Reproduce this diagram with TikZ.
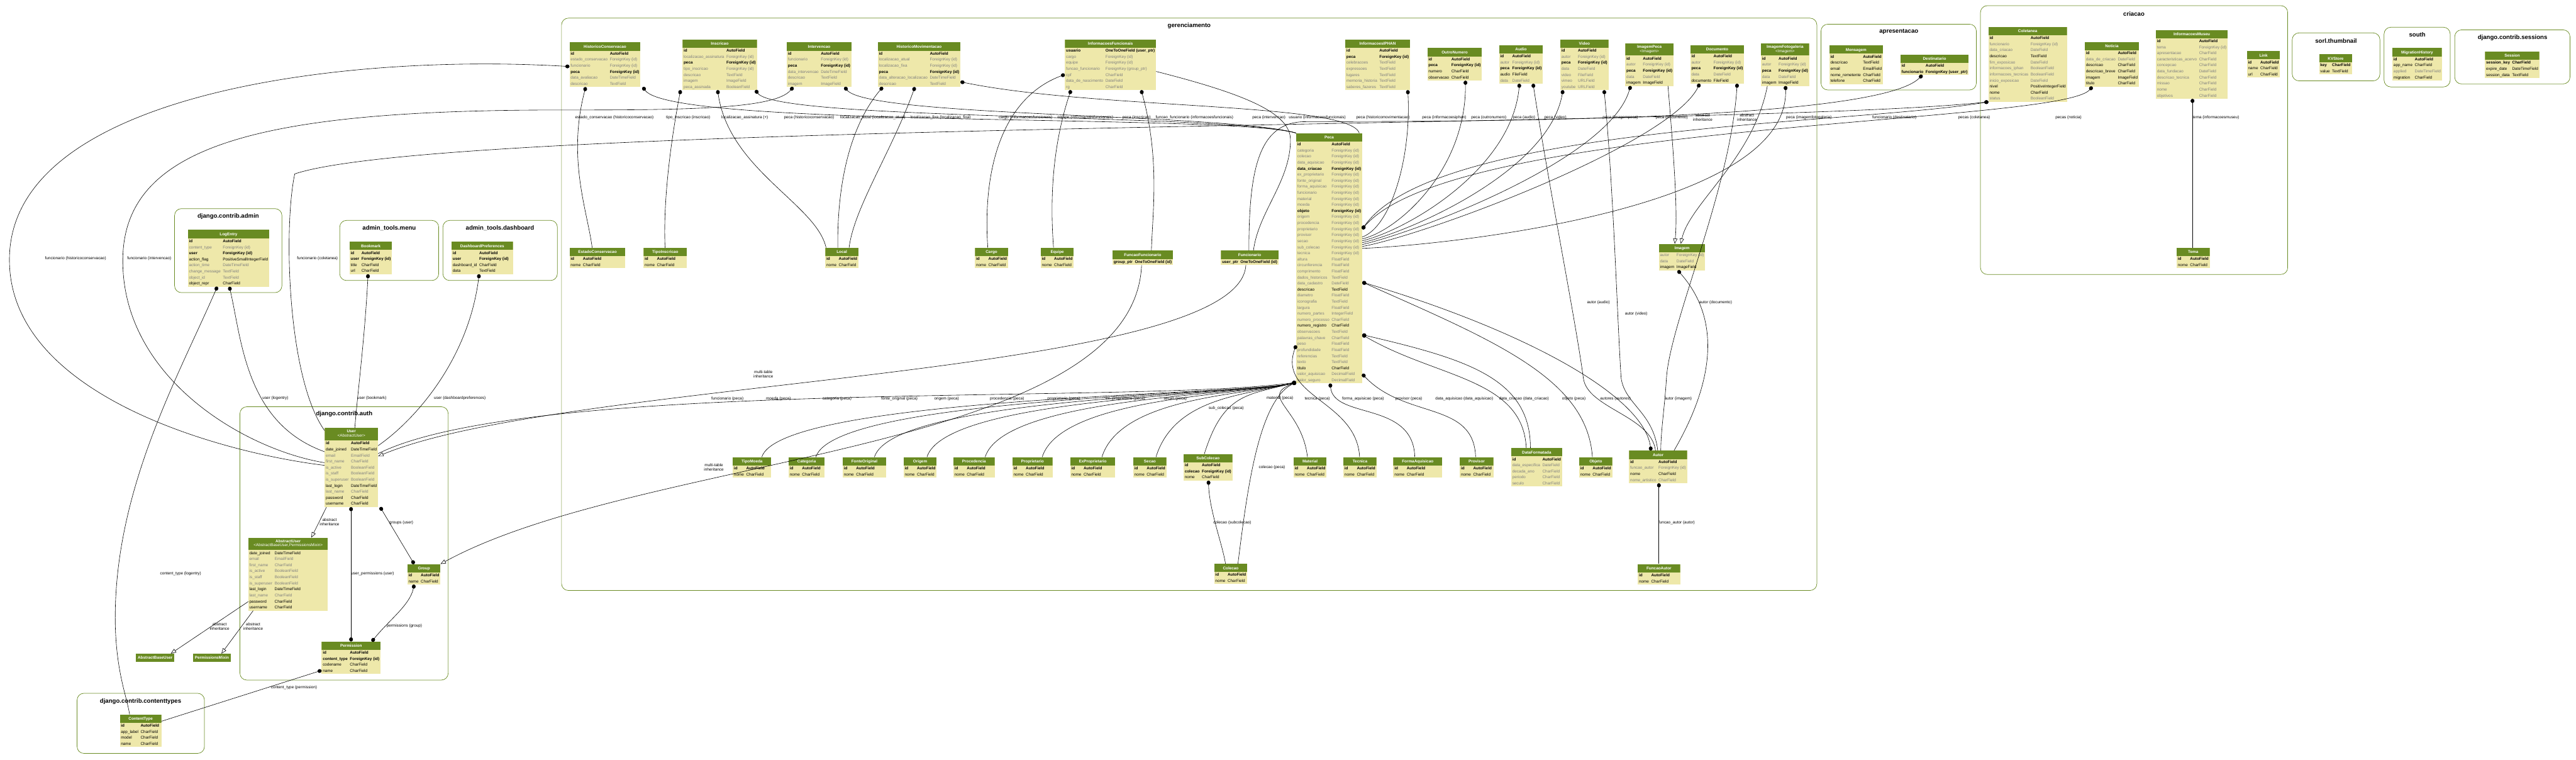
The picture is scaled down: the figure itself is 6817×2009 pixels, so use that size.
\documentclass[tikz,border=0pt]{standalone}
\usepackage{fontspec}
\setmainfont{Liberation Sans}
\usetikzlibrary{arrows.meta,calc,positioning}

\definecolor{hdr}{HTML}{698B22}
\definecolor{body}{HTML}{EEE8AA}
\definecolor{fgray}{HTML}{808080}

\newcommand{\mfont}{\fontsize{10.6}{16}\selectfont}
\newcommand{\Fb}[2]{\textbf{#1} & \textbf{#2}\\}
\newcommand{\Fn}[2]{#1 & #2\\}
\newcommand{\Fg}[2]{\textcolor{fgray}{#1} & \textcolor{fgray}{#2}\\}
\newcommand{\idnome}{\Fb{id}{AutoField}\Fn{nome}{CharField}}
\newcommand{\mtbl}[2]{\begin{tabular}{@{\hspace{3pt}}l@{\hspace{6pt}}l@{\hspace{3pt}}}
  \multicolumn{2}{@{\hspace{23pt}}c@{\hspace{23pt}}}{\color{white}\bfseries\rule[-7pt]{0pt}{22pt}#1}\\
  #2\end{tabular}}
\newcommand{\mtbltwo}[3]{\begin{tabular}{@{\hspace{3pt}}l@{\hspace{6pt}}l@{\hspace{3pt}}}
  \multicolumn{2}{@{\hspace{14pt}}c@{\hspace{14pt}}}{\color{white}\rule[-10pt]{0pt}{33pt}\raisebox{-1pt}{\fontsize{10.6}{11.5}\selectfont\begin{tabular}[b]{@{}c@{}}\bfseries #1\\ #2\end{tabular}}}\\
  #3\end{tabular}}

\tikzset{
  mtab/.style={anchor=north west, inner sep=0pt, fill=body, font=\mfont,
    path picture={\fill[hdr] (path picture bounding box.north west)
      rectangle ([yshift=-#1pt]path picture bounding box.north east);}},
  mtab/.default=22,
  honly/.style={anchor=north west, inner xsep=4.5pt, inner ysep=0pt, minimum height=22pt,
    fill=hdr, text=white, font=\mfont\bfseries},
  clus/.style={draw=hdr, line width=1.2pt, rounded corners=18pt},
  ctitle/.style={font=\fontsize{16}{18}\selectfont\bfseries},
  elab/.style={font=\fontsize{10.6}{11.5}\selectfont, align=center, inner sep=0pt},
  fk/.style={draw, line width=1pt, arrows={Circle[length=11pt,width=10pt]-}},
  mm/.style={draw, line width=1pt, arrows={Circle[length=11pt,width=10pt]-Circle[length=11pt,width=10pt]}},
  oo/.style={draw, line width=1pt},
  inh/.style={draw, line width=1pt, arrows={-Triangle[open,length=14pt,width=11pt]}}
}

\begin{document}
\begin{tikzpicture}[x=1pt,y=-1pt]
\useasboundingbox (0,0) rectangle (6817,2009);

% app clusters
\draw[clus] (462,552) rectangle (746,774);
\node[ctitle] (t-admin) at (604,572) {django.contrib.admin};
\draw[clus] (899,583) rectangle (1161,742);
\node[ctitle] (t-menu) at (1030,604) {admin\_tools.menu};
\draw[clus] (1172,583) rectangle (1475,742);
\node[ctitle] (t-dash) at (1323,604) {admin\_tools.dashboard};
\draw[clus] (635,1076) rectangle (1186,1799);
\node[ctitle] (t-auth) at (911,1095) {django.contrib.auth};
\draw[clus] (204,1834) rectangle (541,1993);
\node[ctitle] (t-ctype) at (372,1855) {django.contrib.contenttypes};
\draw[clus] (1486,48) rectangle (4808,1562);
\node[ctitle] (t-ger) at (3147,68) {gerenciamento};
\draw[clus] (4819,64) rectangle (5230,238);
\node[ctitle] (t-apr) at (5025,84) {apresentacao};
\draw[clus] (5241,15) rectangle (6054,726);
\node[ctitle] (t-cri) at (5647,36) {criacao};
\draw[clus] (6066,87) rectangle (6298,214);
\node[ctitle] (t-sorl) at (6182,108) {sorl.thumbnail};
\draw[clus] (6309,72) rectangle (6484,230);
\node[ctitle] (t-south) at (6397,92) {south};
\draw[clus] (6496,79) rectangle (6801,222);
\node[ctitle] (t-sess) at (6649,100) {django.contrib.sessions};

% admin, admin_tools
\node[mtab] (logentry) at (497,608) {\mtbl{LogEntry}{\Fb{id}{AutoField}\Fg{content\_type}{ForeignKey (id)}\Fb{user}{ForeignKey (id)}\Fn{action\_flag}{PositiveSmallIntegerField}\Fg{action\_time}{DateTimeField}\Fg{change\_message}{TextField}\Fg{object\_id}{TextField}\Fn{object\_repr}{CharField}}};
\node[mtab] (bookmark) at (925,639) {\mtbl{Bookmark}{\Fb{id}{AutoField}\Fb{user}{ForeignKey (id)}\Fn{title}{CharField}\Fn{url}{CharField}}};
\node[mtab] (dashprefs) at (1195,639) {\mtbl{DashboardPreferences}{\Fb{id}{AutoField}\Fb{user}{ForeignKey (id)}\Fn{dashboard\_id}{CharField}\Fn{data}{TextField}}};

% auth, contenttypes
\node[mtab=33] (user) at (859,1132) {\mtbltwo{User}{\textless AbstractUser\textgreater}{\Fb{id}{AutoField}\Fn{date\_joined}{DateTimeField}\Fg{email}{EmailField}\Fg{first\_name}{CharField}\Fg{is\_active}{BooleanField}\Fg{is\_staff}{BooleanField}\Fg{is\_superuser}{BooleanField}\Fn{last\_login}{DateTimeField}\Fg{last\_name}{CharField}\Fn{password}{CharField}\Fn{username}{CharField}}};
\node[mtab=33] (abstractuser) at (657,1422) {\mtbltwo{AbstractUser}{\textless AbstractBaseUser,PermissionsMixin\textgreater}{\Fn{date\_joined}{DateTimeField}\Fg{email}{EmailField}\Fg{first\_name}{CharField}\Fg{is\_active}{BooleanField}\Fg{is\_staff}{BooleanField}\Fg{is\_superuser}{BooleanField}\Fn{last\_login}{DateTimeField}\Fg{last\_name}{CharField}\Fn{password}{CharField}\Fn{username}{CharField}}};
\node[mtab] (group) at (1078,1492) {\mtbl{Group}{\Fb{id}{AutoField}\Fn{name}{CharField}}};
\node[mtab] (permission) at (851,1697) {\mtbl{Permission}{\Fb{id}{AutoField}\Fb{content\_type}{ForeignKey (id)}\Fn{codename}{CharField}\Fn{name}{CharField}}};
\node[honly] (abstractbaseuser) at (360,1729) {AbstractBaseUser};
\node[honly] (permissionsmixin) at (511,1729) {PermissionsMixin};
\node[mtab] (contenttype) at (317,1890) {\mtbl{ContentType}{\Fb{id}{AutoField}\Fn{app\_label}{CharField}\Fn{model}{CharField}\Fn{name}{CharField}}};

% gerenciamento
\node[mtab] (histcons) at (1507,112) {\mtbl{HistoricoConservacao}{\Fb{id}{AutoField}\Fg{estado\_conservacao}{ForeignKey (id)}\Fg{funcionario}{ForeignKey (id)}\Fb{peca}{ForeignKey (id)}\Fg{data\_avaliacao}{DateTimeField}\Fg{descricao}{TextField}}};
\node[mtab] (inscricao) at (1806,104) {\mtbl{Inscricao}{\Fb{id}{AutoField}\Fg{localizacao\_assinatura}{ForeignKey (id)}\Fb{peca}{ForeignKey (id)}\Fg{tipo\_inscricao}{ForeignKey (id)}\Fg{descricao}{TextField}\Fg{imagem}{ImageField}\Fg{peca\_assinada}{BooleanField}}};
\node[mtab] (intervencao) at (2082,112) {\mtbl{Intervencao}{\Fb{id}{AutoField}\Fg{funcionario}{ForeignKey (id)}\Fb{peca}{ForeignKey (id)}\Fg{data\_intervencao}{DateTimeField}\Fg{descricao}{TextField}\Fg{imagem}{ImageField}}};
\node[mtab] (histmov) at (2323,112) {\mtbl{HistoricoMovimentacao}{\Fb{id}{AutoField}\Fg{localizacao\_atual}{ForeignKey (id)}\Fg{localizacao\_fixa}{ForeignKey (id)}\Fb{peca}{ForeignKey (id)}\Fg{data\_alteracao\_localizacao}{DateTimeField}\Fg{descricao}{TextField}}};
\node[mtab] (infofunc) at (2818,104) {\mtbl{InformacoesFuncionais}{\Fb{usuario}{OneToOneField (user\_ptr)}\Fg{cargo}{ForeignKey (id)}\Fg{equipe}{ForeignKey (id)}\Fg{funcao\_funcionario}{ForeignKey (group\_ptr)}\Fg{cpf}{CharField}\Fg{data\_de\_nascimento}{DateField}\Fg{rg}{CharField}}};
\node[mtab] (infoiphan) at (3560,104) {\mtbl{InformacoesIPHAN}{\Fb{id}{AutoField}\Fb{peca}{ForeignKey (id)}\Fg{celebracoes}{TextField}\Fg{expressoes}{TextField}\Fg{lugares}{TextField}\Fg{memoria\_historia}{TextField}\Fg{saberes\_fazeres}{TextField}}};
\node[mtab] (outronumero) at (3777,127) {\mtbl{OutroNumero}{\Fb{id}{AutoField}\Fb{peca}{ForeignKey (id)}\Fn{numero}{CharField}\Fn{observacao}{CharField}}};
\node[mtab] (audio) at (3967,119) {\mtbl{Audio}{\Fb{id}{AutoField}\Fg{autor}{ForeignKey (id)}\Fb{peca}{ForeignKey (id)}\Fn{audio}{FileField}\Fg{data}{DateField}}};
\node[mtab] (video) at (4129,104) {\mtbl{Video}{\Fb{id}{AutoField}\Fg{autor}{ForeignKey (id)}\Fb{peca}{ForeignKey (id)}\Fg{data}{DateField}\Fg{video}{FileField}\Fg{vimeo}{URLField}\Fg{youtube}{URLField}}};
\node[mtab=33] (imagempeca) at (4301,114) {\mtbltwo{ImagemPeca}{\textless Imagem\textgreater}{\Fb{id}{AutoField}\Fg{autor}{ForeignKey (id)}\Fb{peca}{ForeignKey (id)}\Fg{data}{DateField}\Fn{imagem}{ImageField}}};
\node[mtab] (documento) at (4473,119) {\mtbl{Documento}{\Fb{id}{AutoField}\Fg{autor}{ForeignKey (id)}\Fb{peca}{ForeignKey (id)}\Fg{data}{DateField}\Fn{documento}{FileField}}};
\node[mtab=33] (imagemfoto) at (4660,114) {\mtbltwo{ImagemFotogaleria}{\textless Imagem\textgreater}{\Fb{id}{AutoField}\Fg{autor}{ForeignKey (id)}\Fb{peca}{ForeignKey (id)}\Fg{data}{DateField}\Fn{imagem}{ImageField}}};

\node[mtab] (estadocons) at (1507,655) {\mtbl{EstadoConservacao}{\idnome}};
\node[mtab] (tipoinscricao) at (1703,655) {\mtbl{TipoInscricao}{\idnome}};
\node[mtab] (local) at (2184,655) {\mtbl{Local}{\idnome}};
\node[mtab] (cargo) at (2580,655) {\mtbl{Cargo}{\idnome}};
\node[mtab] (equipe) at (2754,655) {\mtbl{Equipe}{\idnome}};
\node[mtab] (funcaofunc) at (2944,663) {\mtbl{FuncaoFuncionario}{\Fb{group\_ptr}{OneToOneField (id)}}};
\node[mtab] (funcionario) at (3231,663) {\mtbl{Funcionario}{\Fb{user\_ptr}{OneToOneField (id)}}};
\node[mtab] (imagem) at (4390,645) {\mtbl{Imagem}{\Fg{autor}{ForeignKey (id)}\Fg{data}{DateField}\Fn{imagem}{ImageField}}};

\node[mtab] (peca) at (3430,352) {\mtbl{Peca}{\Fb{id}{AutoField}\Fg{categoria}{ForeignKey (id)}\Fg{colecao}{ForeignKey (id)}\Fg{data\_aquisicao}{ForeignKey (id)}\Fb{data\_criacao}{ForeignKey (id)}\Fg{ex\_proprietario}{ForeignKey (id)}\Fg{fonte\_original}{ForeignKey (id)}\Fg{forma\_aquisicao}{ForeignKey (id)}\Fg{funcionario}{ForeignKey (id)}\Fg{material}{ForeignKey (id)}\Fg{moeda}{ForeignKey (id)}\Fb{objeto}{ForeignKey (id)}\Fg{origem}{ForeignKey (id)}\Fg{procedencia}{ForeignKey (id)}\Fg{proprietario}{ForeignKey (id)}\Fg{provisor}{ForeignKey (id)}\Fg{secao}{ForeignKey (id)}\Fg{sub\_colecao}{ForeignKey (id)}\Fg{tecnica}{ForeignKey (id)}\Fg{altura}{FloatField}\Fg{circunferencia}{FloatField}\Fg{comprimento}{FloatField}\Fg{dados\_historicos}{TextField}\Fg{data\_cadastro}{DateField}\Fn{descricao}{TextField}\Fg{diametro}{FloatField}\Fg{iconografia}{TextField}\Fg{largura}{FloatField}\Fg{numero\_partes}{IntegerField}\Fg{numero\_processo}{CharField}\Fn{numero\_registro}{CharField}\Fg{observacoes}{TextField}\Fg{palavras\_chave}{CharField}\Fg{peso}{FloatField}\Fg{profundidade}{FloatField}\Fg{referencias}{TextField}\Fg{texto}{TextField}\Fn{titulo}{CharField}\Fg{valor\_aquisicao}{DecimalField}\Fg{valor\_seguro}{DecimalField}}};

\node[mtab] (tipomoeda) at (1939,1209) {\mtbl{TipoMoeda}{\idnome}};
\node[mtab] (categoria) at (2087,1209) {\mtbl{Categoria}{\idnome}};
\node[mtab] (fonteoriginal) at (2230,1209) {\mtbl{FonteOriginal}{\idnome}};
\node[mtab] (origem) at (2391,1209) {\mtbl{Origem}{\idnome}};
\node[mtab] (procedencia) at (2523,1209) {\mtbl{Procedencia}{\idnome}};
\node[mtab] (proprietario) at (2679,1209) {\mtbl{Proprietario}{\idnome}};
\node[mtab] (exproprietario) at (2832,1209) {\mtbl{ExProprietario}{\idnome}};
\node[mtab] (secao) at (2999,1209) {\mtbl{Secao}{\idnome}};
\node[mtab] (subcolecao) at (3132,1201) {\mtbl{SubColecao}{\Fb{id}{AutoField}\Fb{colecao}{ForeignKey (id)}\Fn{nome}{CharField}}};
\node[mtab] (colecao) at (3213,1491) {\mtbl{Colecao}{\idnome}};
\node[mtab] (material) at (3423,1209) {\mtbl{Material}{\idnome}};
\node[mtab] (tecnica) at (3555,1209) {\mtbl{Tecnica}{\idnome}};
\node[mtab] (formaaquisicao) at (3687,1209) {\mtbl{FormaAquisicao}{\idnome}};
\node[mtab] (provisor) at (3863,1209) {\mtbl{Provisor}{\idnome}};
\node[mtab] (dataformatada) at (3999,1185) {\mtbl{DataFormatada}{\Fb{id}{AutoField}\Fg{data\_especifica}{DateField}\Fg{decada\_ano}{CharField}\Fg{periodo}{CharField}\Fg{seculo}{CharField}}};
\node[mtab] (objeto) at (4179,1209) {\mtbl{Objeto}{\idnome}};
\node[mtab] (autor) at (4311,1192) {\mtbl{Autor}{\Fb{id}{AutoField}\Fg{funcao\_autor}{ForeignKey (id)}\Fn{nome}{CharField}\Fg{nome\_artistico}{CharField}}};
\node[mtab] (funcaoautor) at (4334,1492) {\mtbl{FuncaoAutor}{\idnome}};

% apresentacao, criacao
\node[mtab] (mensagem) at (4841,120) {\mtbl{Mensagem}{\Fb{id}{AutoField}\Fn{descricao}{TextField}\Fn{email}{EmailField}\Fn{nome\_remetente}{CharField}\Fn{telefone}{CharField}}};
\node[mtab] (destinatario) at (5029,144) {\mtbl{Destinatario}{\Fb{id}{AutoField}\Fb{funcionario}{ForeignKey (user\_ptr)}}};
\node[mtab] (coletanea) at (5262,71) {\mtbl{Coletanea}{\Fb{id}{AutoField}\Fg{funcionario}{ForeignKey (id)}\Fg{data\_criacao}{DateField}\Fn{descricao}{TextField}\Fg{fim\_exposicao}{DateField}\Fg{informacoes\_iphan}{BooleanField}\Fg{informacoes\_tecnicas}{BooleanField}\Fg{inicio\_exposicao}{DateField}\Fn{nivel}{PositiveIntegerField}\Fn{nome}{CharField}\Fg{status}{BooleanField}}};
\node[mtab] (noticia) at (5517,111) {\mtbl{Noticia}{\Fb{id}{AutoField}\Fg{data\_de\_criacao}{DateField}\Fn{descricao}{CharField}\Fn{descricao\_breve}{CharField}\Fn{imagem}{ImageField}\Fn{titulo}{CharField}}};
\node[mtab] (infomuseu) at (5705,79) {\mtbl{InformacoesMuseu}{\Fb{id}{AutoField}\Fg{tema}{ForeignKey (id)}\Fg{apresentacao}{CharField}\Fg{caracteristicas\_acervo}{CharField}\Fg{concepcao}{CharField}\Fg{data\_fundacao}{DateField}\Fg{descricao\_tecnica}{CharField}\Fg{missao}{CharField}\Fg{nome}{CharField}\Fg{objetivos}{CharField}}};
\node[mtab] (link) at (5946,135) {\mtbl{Link}{\Fb{id}{AutoField}\Fn{name}{CharField}\Fn{url}{CharField}}};
\node[mtab] (tema) at (5760,655) {\mtbl{Tema}{\idnome}};

% sorl, south, sessions
\node[mtab] (kvstore) at (6137,143) {\mtbl{KVStore}{\Fb{key}{CharField}\Fn{value}{TextField}}};
\node[mtab] (migration) at (6331,127) {\mtbl{MigrationHistory}{\Fb{id}{AutoField}\Fn{app\_name}{CharField}\Fg{applied}{DateTimeField}\Fn{migration}{CharField}}};
\node[mtab] (session) at (6576,136) {\mtbl{Session}{\Fb{session\_key}{CharField}\Fn{expire\_date}{DateTimeField}\Fn{session\_data}{TextField}}};

% relations: admin, auth
\draw[fk] ([xshift=110pt]logentry.south west) .. controls (640,900) and (650,1120) .. ([yshift=-63pt]user.north west);
\draw[fk] ([xshift=78pt]logentry.south west) .. controls (470,1000) and (300,1300) .. (305,1650) .. controls (308,1780) and (335,1840) .. ([xshift=26pt]contenttype.north west);
\draw[fk] ([xshift=49pt]bookmark.south west) .. controls (965,900) and (945,1050) .. ([xshift=80pt]user.north west);
\draw[fk] ([xshift=73pt]dashprefs.south west) .. controls (1240,950) and (1100,1110) .. ([yshift=-47pt]user.north east);
\draw[inh] ([xshift=5pt]user.south west) -- ([xshift=167pt]abstractuser.north west);
\draw[mm] ([xshift=70pt]user.south west) -- ([xshift=78pt]permission.north west);
\draw[mm] ([xshift=147pt]user.south west) -- ([xshift=18pt]group.north west);
\draw[mm] ([xshift=18pt]group.south west) .. controls (1085,1600) and (1030,1640) .. ([xshift=133pt]permission.north west);
\draw[inh] ([yshift=24pt]abstractuser.south west) -- ([xshift=92pt]abstractbaseuser.north west);
\draw[inh] ([xshift=13pt]abstractuser.south west) -- ([xshift=75pt]permissionsmixin.north west);
\draw[fk] ([yshift=10pt]permission.south west) -- ([yshift=-18pt]contenttype.north east);

% relations: gerenciamento, top row
\draw[fk] ([xshift=43pt]histcons.south west) .. controls (1500,420) and (1555,560) .. ([xshift=60pt]estadocons.north west);
\draw[fk] ([yshift=-64pt]histcons.north west) .. controls (900,140) and (30,250) .. (25,683) .. controls (20,1050) and (600,1200) .. ([yshift=-99pt]user.north west);
\draw[fk] ([xshift=17pt]intervencao.south west) .. controls (2050,290) and (1800,291) .. (1480,291) .. controls (700,291) and (330,380) .. (325,683) .. controls (320,1000) and (650,1190) .. ([yshift=-92pt]user.north west);
\draw[fk] ([xshift=194pt]histcons.south west) .. controls (1780,340) and (3250,300) .. (peca.north west);
\draw[fk] ([xshift=193pt]inscricao.south west) .. controls (2060,320) and (3250,300) .. (peca.north west);
\draw[fk] ([xshift=153pt]intervencao.south west) .. controls (2300,310) and (3250,300) .. (peca.north west);
\draw[fk] ([yshift=14pt]histmov.south east) .. controls (2900,290) and (3570,270) .. ([xshift=-8pt]peca.north east);
\draw[fk] ([xshift=-5pt]inscricao.south west) .. controls (1770,400) and (1755,550) .. ([xshift=57pt]tipoinscricao.north west);
\draw[fk] ([xshift=93pt]inscricao.south west) .. controls (1930,450) and (2160,540) .. ([xshift=2pt]local.north west);
\draw[fk] ([xshift=13pt]histmov.south west) .. controls (2260,320) and (2215,460) .. ([xshift=33pt]local.north west);
\draw[fk] ([xshift=98pt]histmov.south west) .. controls (2360,400) and (2260,550) .. ([xshift=63pt]local.north west);
\draw[fk] ([yshift=-93pt]infofunc.north west) .. controls (2650,260) and (2600,450) .. ([xshift=34pt]cargo.north west);
\draw[fk] ([xshift=16pt]infofunc.south west) .. controls (2780,400) and (2780,550) .. ([xshift=34pt]equipe.north west);
\draw[fk] ([xshift=202pt]infofunc.south west) .. controls (3070,420) and (3050,560) .. ([xshift=103pt]funcaofunc.north west);
\draw[oo] ([yshift=-85pt]infofunc.north east) .. controls (3300,250) and (3415,300) .. (3415,370) .. controls (3415,480) and (3330,560) .. ([xshift=86pt]funcionario.north west);
\draw[fk] ([xshift=-6pt]infoiphan.south east) .. controls (3735,420) and (3680,600) .. ([yshift=-275pt]peca.north east);
\draw[fk] ([xshift=101pt]outronumero.south west) .. controls (3880,450) and (3700,610) .. ([yshift=-280pt]peca.north east);
\draw[fk] ([xshift=54pt]audio.south west) .. controls (4000,450) and (3720,610) .. ([yshift=-285pt]peca.north east);
\draw[fk] ([xshift=7pt]video.south west) .. controls (4100,450) and (3740,610) .. ([yshift=-290pt]peca.north east);
\draw[fk] ([xshift=14pt]imagempeca.south west) .. controls (4260,420) and (3760,610) .. ([yshift=-295pt]peca.north east);
\draw[fk] ([xshift=25pt]documento.south west) .. controls (4420,380) and (3780,620) .. ([yshift=-300pt]peca.north east);
\draw[fk] ([xshift=65pt]imagemfoto.south west) .. controls (4735,560) and (3800,650) .. ([yshift=-305pt]peca.north east);
\draw[inh] ([xshift=113pt]imagempeca.south west) .. controls (4430,420) and (4440,560) .. ([xshift=42pt]imagem.north west);
\draw[inh] ([xshift=17pt]imagemfoto.south west) .. controls (4640,420) and (4470,540) .. ([xshift=58pt]imagem.north west);

% relations: apresentacao, criacao
\draw[mm] (coletanea.south west) .. controls (4900,330) and (3800,330) .. ([yshift=-254pt]peca.north east);
\draw[mm] ([xshift=20pt]noticia.south west) .. controls (5450,330) and (3850,320) .. ([yshift=-254pt]peca.north east);
\draw[fk] (coletanea.south west) .. controls (4600,340) and (1200,320) .. (780,460) .. controls (750,600) and (760,1000) .. ([yshift=-7pt]user.north west);
\draw[fk] ([xshift=58pt]destinatario.south west) .. controls (4960,330) and (3700,320) .. (3450,322) .. controls (3330,325) and (3305,450) .. ([xshift=74pt]funcionario.north west);
\draw[fk] ([xshift=97pt]infomuseu.south west) -- ([xshift=42pt]tema.north west);

% relations: inheritance into auth
\draw[inh] ([xshift=66pt]funcionario.south west) .. controls (3280,1000) and (1500,1000) .. ([yshift=-75pt]user.north east);
\draw[inh] ([xshift=77pt]funcaofunc.south west) .. controls (3000,1200) and (1700,1200) .. (group.north east);

% relations: Peca to the lower row
\foreach \tn/\dx in {tipomoeda/77,categoria/72,fonteoriginal/84,origem/62,procedencia/84,proprietario/79,exproprietario/84,secao/60,subcolecao/55}
  \draw[fk] ([yshift=3pt]peca.south west) .. controls (3300,1045) and ($(\tn.north west)+(\dx+50,-160)$) .. ([xshift=\dx pt]\tn.north west);
\draw[fk] ([yshift=3pt]peca.south west) .. controls (3330,1050) and (3445,1080) .. ([xshift=37pt]material.north west);
\draw[fk] ([yshift=3pt]peca.south west) .. controls (3330,1060) and (3300,1300) .. ([xshift=63pt]colecao.north west);
\draw[fk] ([yshift=3pt]peca.south west) .. controls (3000,1070) and (1400,1000) .. ([yshift=-68pt]user.north east);
\draw[fk] ([yshift=101pt]peca.south west) .. controls (3380,1050) and (3590,1060) .. ([xshift=43pt]tecnica.north west);
\draw[fk] ([xshift=90pt]peca.south west) .. controls (3530,1110) and (3740,1060) .. ([xshift=57pt]formaaquisicao.north west);
\draw[fk] ([yshift=25pt]peca.south east) .. controls (3720,1110) and (3900,1060) .. ([xshift=42pt]provisor.north west);
\draw[fk] ([yshift=129pt]peca.south east) .. controls (3800,1000) and (4030,1000) .. ([xshift=40pt]dataformatada.north west);
\draw[fk] ([yshift=129pt]peca.south east) .. controls (3880,950) and (4050,1000) .. ([xshift=51pt]dataformatada.north west);
\draw[fk] ([yshift=268pt]peca.south east) .. controls (3950,900) and (4200,1000) .. ([xshift=35pt]objeto.north west);
\draw[mm] ([yshift=268pt]peca.south east) .. controls (4050,880) and (4350,1050) .. ([xshift=58pt]autor.north west);
\draw[fk] ([xshift=66pt]subcolecao.south west) .. controls (3200,1350) and (3235,1440) .. ([xshift=30pt]colecao.north west);

% relations: Autor
\draw[fk] ([xshift=90pt]audio.south west) .. controls (4100,500) and (4170,850) .. (4190,1000) .. controls (4200,1080) and (4370,1100) .. ([xshift=70pt]autor.north west);
\draw[fk] ([xshift=116pt]video.south west) .. controls (4270,500) and (4280,850) .. (4290,1000) .. controls (4300,1070) and (4375,1090) .. ([xshift=76pt]autor.north west);
\draw[fk] ([xshift=124pt]documento.south west) .. controls (4580,500) and (4420,850) .. (4410,1000) .. controls (4405,1080) and (4395,1140) .. ([xshift=84pt]autor.north west);
\draw[fk] ([xshift=50pt]imagem.south west) .. controls (4560,850) and (4530,1020) .. ([xshift=119pt]autor.north west);
\draw[fk] ([xshift=79pt]autor.south west) -- ([xshift=56pt]funcaoautor.north west);

% labels
\node[elab] (l-logu) at (729,1054) {user (logentry)};
\node[elab] (l-logct) at (478,1517) {content\_type (logentry)};
\node[elab] (l-bkm) at (984,1054) {user (bookmark)};
\node[elab] (l-dash) at (1217,1054) {user (dashboardpreferences)};
\node[elab] (l-abs1) at (872,1381) {abstract\\inheritance};
\node[elab] (l-uperm) at (986,1518) {user\_permissions (user)};
\node[elab] (l-grp) at (1062,1382) {groups (user)};
\node[elab] (l-gperm) at (1070,1655) {permissions (group)};
\node[elab] (l-abs2) at (581,1657) {abstract\\inheritance};
\node[elab] (l-abs3) at (670,1657) {abstract\\inheritance};
\node[elab] (l-pct) at (778,1819) {content\_type (permission)};
\node[elab] (l-fhc) at (200,683) {funcionario (historicoconservacao)};
\node[elab] (l-fint) at (395,683) {funcionario (intervencao)};
\node[elab] (l-fcol) at (840,683) {funcionario (coletanea)};
\node[elab] (l-estc) at (1626,311) {estado\_conservacao (historicoconservacao)};
\node[elab] (l-tins) at (1821,311) {tipo\_inscricao (inscricao)};
\node[elab] (l-lass) at (1971,311) {localizacao\_assinatura (+)};
\node[elab] (l-phc) at (2141,311) {peca (historicoconservacao)};
\node[elab] (l-lat) at (2310,311) {localizacao\_atual (localizacao\_atual)};
\node[elab] (l-lfx) at (2489,311) {localizacao\_fixa (localizacao\_fixa)};
\node[elab] (l-cargo) at (2714,311) {cargo (informacoesfuncionais)};
\node[elab] (l-equipe) at (2872,311) {equipe (informacoesfuncionais)};
\node[elab] (l-pins) at (3008,311) {peca (inscricao)};
\node[elab] (l-ffun) at (3161,311) {funcao\_funcionario (informacoesfuncionais)};
\node[elab] (l-pint) at (3358,311) {peca (intervencao)};
\node[elab] (l-usu) at (3486,311) {usuario (informacoesfuncionais)};
\node[elab] (l-phm) at (3660,311) {peca (historicomovimentacao)};
\node[elab] (l-piph) at (3822,311) {peca (informacoesiphan)};
\node[elab] (l-pon) at (3940,311) {peca (outronumero)};
\node[elab] (l-paud) at (4033,311) {peca (audio)};
\node[elab] (l-pvid) at (4116,311) {peca (video)};
\node[elab] (l-pimg) at (4288,311) {peca (imagempeca)};
\node[elab] (l-pdoc) at (4424,311) {peca (documento)};
\node[elab] (l-abs4) at (4506,311) {abstract\\inheritance};
\node[elab] (l-abs5) at (4623,311) {abstract\\inheritance};
\node[elab] (l-pfot) at (4787,311) {peca (imagemfotogaleria)};
\node[elab] (l-fdest) at (5013,311) {funcionario (destinatario)};
\node[elab] (l-pcol) at (5224,311) {pecas (coletanea)};
\node[elab] (l-pnot) at (5474,311) {pecas (noticia)};
\node[elab] (l-tema) at (5864,311) {tema (informacoesmuseu)};
\node[elab] (l-mti1) at (1889,1236) {multi-table\\inheritance};
\node[elab] (l-mti2) at (2020,990) {multi-table\\inheritance};
\node[elab] (l-fpeca) at (1925,1055) {funcionario (peca)};
\node[elab] (l-moeda) at (2060,1055) {moeda (peca)};
\node[elab] (l-cat) at (2215,1055) {categoria (peca)};
\node[elab] (l-fonte) at (2380,1055) {fonte\_original (peca)};
\node[elab] (l-orig) at (2505,1055) {origem (peca)};
\node[elab] (l-proc) at (2665,1055) {procedencia (peca)};
\node[elab] (l-prop) at (2815,1055) {proprietario (peca)};
\node[elab] (l-exprop) at (2978,1055) {ex\_proprietario (peca)};
\node[elab] (l-secao) at (3110,1055) {secao (peca)};
\node[elab] (l-subcol) at (3245,1080) {sub\_colecao (peca)};
\node[elab] (l-colp) at (3366,1236) {colecao (peca)};
\node[elab] (l-colsub) at (3261,1382) {colecao (subcolecao)};
\node[elab] (l-mat) at (3387,1054) {material (peca)};
\node[elab] (l-tec) at (3486,1055) {tecnica (peca)};
\node[elab] (l-forma) at (3607,1055) {forma\_aquisicao (peca)};
\node[elab] (l-prov) at (3728,1055) {provisor (peca)};
\node[elab] (l-daq) at (3875,1055) {data\_aquisicao (data\_aquisicao)};
\node[elab] (l-dcr) at (4033,1055) {data\_criacao (data\_criacao)};
\node[elab] (l-obj) at (4165,1055) {objeto (peca)};
\node[elab] (l-autores) at (4275,1055) {autores (autores)};
\node[elab] (l-aimg) at (4441,1055) {autor (imagem)};
\node[elab] (l-aaud) at (4230,800) {autor (audio)};
\node[elab] (l-avid) at (4330,830) {autor (video)};
\node[elab] (l-adoc) at (4540,800) {autor (documento)};
\node[elab] (l-fautor) at (4437,1382) {funcao\_autor (autor)};
\end{tikzpicture}
\end{document}
